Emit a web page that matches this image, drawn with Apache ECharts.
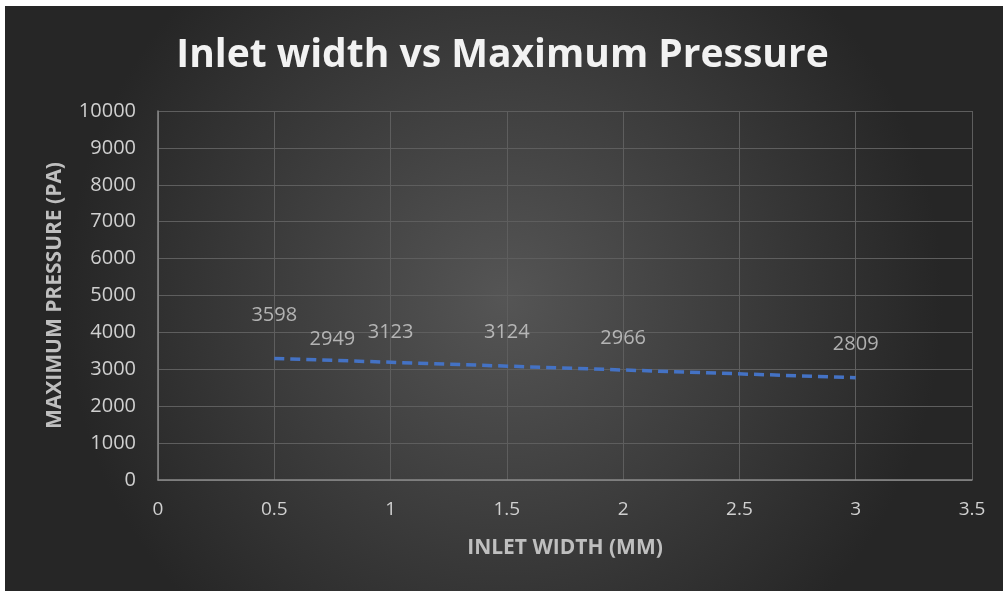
<!DOCTYPE html>
<html>
<head>
<meta charset="utf-8">
<script src="https://cdn.jsdelivr.net/npm/echarts@6/dist/echarts.min.js"></script>
<style>
  html, body { margin: 0; padding: 0; background: #ffffff; }
  #chart { width: 1005px; height: 591px; }
</style>
</head>
<body>
<div id="chart"></div>
<script>
// Inlet width (mm) and the maximum pressure (Pa) measured at each width
const inletWidth = [0.5, 0.75, 1, 1.5, 2, 3];
const maxPressure = [3598, 2949, 3123, 3124, 2966, 2809];
const xTicks = [0, 0.5, 1, 1.5, 2, 2.5, 3, 3.5];
const yTicks = [0, 1000, 2000, 3000, 4000, 5000, 6000, 7000, 8000, 9000, 10000];

// Least-squares linear trendline over the measured points
function linearFit(xs, ys) {
  const n = xs.length;
  const mx = xs.reduce((a, b) => a + b, 0) / n;
  const my = ys.reduce((a, b) => a + b, 0) / n;
  let sxy = 0, sxx = 0;
  for (let i = 0; i < n; i++) {
    sxy += (xs[i] - mx) * (ys[i] - my);
    sxx += (xs[i] - mx) * (xs[i] - mx);
  }
  const slope = sxy / sxx;
  return { slope, intercept: my - slope * mx };
}
const fit = linearFit(inletWidth, maxPressure);
const xMinData = Math.min(...inletWidth);
const xMaxData = Math.max(...inletWidth);
const trend = [
  [xMinData, fit.intercept + fit.slope * xMinData],
  [xMaxData, fit.intercept + fit.slope * xMaxData]
];

const points = inletWidth.map((x, i) => [x, maxPressure[i]]);
const font = '"Open Sans", "DejaVu Sans", sans-serif';

const chart = echarts.init(document.getElementById('chart'), null, { renderer: 'canvas' });
chart.setOption({
  backgroundColor: '#ffffff',
  animation: false,
  graphic: [
    {
      type: 'rect',
      z: -10,
      silent: true,
      shape: { x: 5, y: 6, width: 998, height: 585 },
      style: {
        fill: new echarts.graphic.RadialGradient(0.5, 0.5, 0.75, [
          { offset: 0, color: '#555555' },
          { offset: 1, color: '#262626' }
        ])
      }
    }
  ],
  title: {
    text: 'Inlet width vs Maximum Pressure',
    left: 'center',
    top: 31,
    textStyle: {
      color: '#f2f2f2',
      fontFamily: font,
      fontWeight: 'bold',
      fontSize: 39
    }
  },
  grid: { left: 158, right: 33, top: 111, bottom: 111, containLabel: false },
  xAxis: {
    type: 'value',
    min: xTicks[0],
    max: xTicks[xTicks.length - 1],
    interval: 0.5,
    name: 'INLET WIDTH (MM)',
    nameLocation: 'middle',
    nameGap: 58,
    nameTextStyle: { color: '#bfbfbf', fontFamily: font, fontWeight: 'bold', fontSize: 21 },
    axisLine: { show: true, lineStyle: { color: '#8a8a8a', width: 1.5 } },
    axisTick: { show: false },
    axisLabel: { color: '#d0d0d0', fontFamily: font, fontSize: 19, margin: 20 },
    splitLine: { show: true, lineStyle: { color: '#5e5e5e', width: 1 } }
  },
  yAxis: {
    type: 'value',
    min: yTicks[0],
    max: yTicks[yTicks.length - 1],
    interval: 1000,
    name: 'MAXIMUM PRESSURE (PA)',
    nameLocation: 'middle',
    nameGap: 92,
    nameTextStyle: { color: '#bfbfbf', fontFamily: font, fontWeight: 'bold', fontSize: 21 },
    axisLine: { show: true, lineStyle: { color: '#8a8a8a', width: 1.5 } },
    axisTick: { show: false },
    axisLabel: { color: '#d0d0d0', fontFamily: font, fontSize: 20, margin: 22, formatter: v => String(v) },
    splitLine: { show: true, lineStyle: { color: '#5e5e5e', width: 1 } }
  },
  series: [
    {
      name: 'Maximum pressure',
      type: 'scatter',
      data: points,
      symbolSize: 0.01,
      itemStyle: { color: 'rgba(0,0,0,0)' },
      label: {
        show: true,
        position: 'top',
        distance: 22,
        color: '#d0d0d0',
        fontFamily: font,
        fontSize: 20,
        formatter: p => String(p.value[1])
      },
      z: 5
    },
    {
      name: 'Linear trend',
      type: 'line',
      data: trend,
      showSymbol: false,
      lineStyle: { color: '#4472c4', width: 3.5, type: [10, 6] },
      z: 4
    }
  ]
});
</script>
</body>
</html>
